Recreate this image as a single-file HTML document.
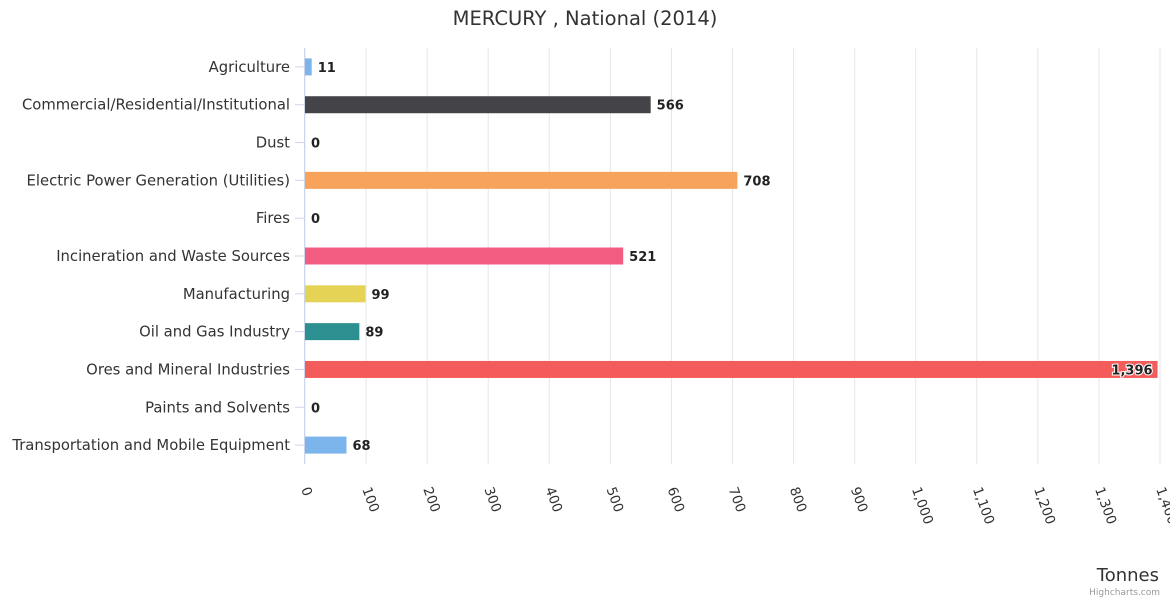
<!DOCTYPE html>
<html><head><meta charset="utf-8"><style>
body{margin:0;background:#fff;}
svg{display:block;font-family:"DejaVu Sans","Liberation Sans",sans-serif;}
</style></head><body>
<svg id="chart" width="1170" height="600" viewBox="0 0 1170 600">
<rect width="1170" height="600" fill="#fff"/>
<text x="585" y="25" text-anchor="middle" font-size="19.5" fill="#333">MERCURY , National (2014)</text>
<g id="grid"></g><g id="bars"></g><g id="ylabels"></g><g id="xlabels"></g>
<text x="1159" y="581" text-anchor="end" font-size="18" fill="#333">Tonnes</text>
<text x="1160" y="595" text-anchor="end" font-size="9" fill="#999">Highcharts.com</text>
</svg>
<script>
const categories=["Agriculture","Commercial/Residential/Institutional","Dust","Electric Power Generation (Utilities)","Fires","Incineration and Waste Sources","Manufacturing","Oil and Gas Industry","Ores and Mineral Industries","Paints and Solvents","Transportation and Mobile Equipment"];
const values=[11,566,0,708,0,521,99,89,1396,0,68];
const colors=["#7cb5ec","#434348","#90ed7d","#f7a35c","#8085e9","#f15c80","#e4d354","#2b908f","#f45b5b","#91e8e1","#7cb5ec"];
const ticks=[0,100,200,300,400,500,600,700,800,900,1000,1100,1200,1300,1400];
const NS="http://www.w3.org/2000/svg";
const x0=305,x1=1160,yTop=48,yBottom=464;
const xs=v=>x0+(v/1400)*(x1-x0);
const band=(yBottom-yTop)/categories.length;
const yc=i=>yTop+band*(i+0.5);
const fmt=v=>v.toLocaleString("en-US");
function mk(tag,attrs,parent,text){const e=document.createElementNS(NS,tag);for(const k in attrs)e.setAttribute(k,attrs[k]);if(text!==undefined)e.textContent=text;parent.appendChild(e);return e;}
const grid=document.getElementById("grid"),bars=document.getElementById("bars"),yl=document.getElementById("ylabels"),xl=document.getElementById("xlabels");
ticks.forEach(t=>{
 const l=mk("line",{x1:xs(t),x2:xs(t),y1:yTop,y2:yBottom,stroke:"#e6e6e6","stroke-width":1},grid);
 
 
 const tx=mk("text",{x:xs(t)-4,y:489,"font-size":13.5,fill:"#333",transform:`rotate(70 ${xs(t)-4} 489)`},xl,fmt(t));
 
 
});
const ax=mk("line",{x1:x0-0.5,x2:x0-0.5,y1:yTop,y2:yBottom,stroke:"#ccd6eb"},grid);


categories.forEach((c,i)=>{
 const y=yc(i);
 const tk=mk("line",{x1:x0-10,x2:x0,y1:y,y2:y,stroke:"#ccd6eb"},grid);
 
 
 const lab=mk("text",{x:290,y:y+5,"text-anchor":"end","font-size":14.8,fill:"#333"},yl,c);
 
 
 const w=xs(values[i])-x0;
 if(w>0){const r=mk("rect",{x:x0,y:y-8.5,width:w,height:17,fill:colors[i]},bars);
 
 }
 const inside=xs(values[i])+40>1165;
 const dl=mk("text",{x:inside?xs(values[i])-5:xs(values[i])+6,y:y+5,"text-anchor":inside?"end":"start","font-size":13,"font-weight":"bold",fill:"#222",stroke:"#fff","stroke-width":inside?2:0,"paint-order":"stroke"},bars,fmt(values[i]));
 
 
});
</script>
</body></html>
